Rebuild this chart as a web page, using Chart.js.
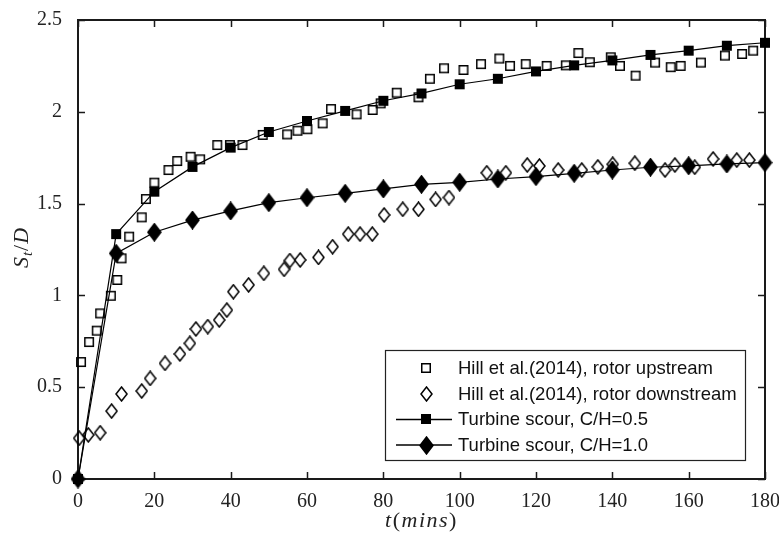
<!DOCTYPE html>
<html>
<head>
<meta charset="utf-8">
<script src="https://cdn.jsdelivr.net/npm/chart.js@4.4.1/dist/chart.umd.min.js"></script>
<style>
  html, body { margin: 0; padding: 0; background: #fff; }
</style>
</head>
<body>
<canvas id="scourChart" width="779" height="539"></canvas>
<script>
// Hill et al. (2014), rotor upstream
var upTime = [0.8, 2.9, 4.9, 5.8, 8.6, 10.3, 11.4, 13.4, 16.7, 17.8, 20, 23.7, 26, 29.5, 32, 36.5, 39.8, 43.1,
  48.4, 54.8, 57.5, 60.1, 64.1, 66.3, 73, 77.2, 79.3, 83.5, 89.2, 92.2, 95.9, 101, 105.6, 110.4, 113.2, 117.3,
  122.8, 127.8, 131.1, 134.1, 139.6, 142, 146.1, 151.2, 155.3, 157.9, 163.2, 169.5, 174, 176.9];
var upDepth = [0.637, 0.746, 0.808, 0.902, 0.998, 1.084, 1.202, 1.32, 1.425, 1.525, 1.614, 1.683, 1.732, 1.755, 1.741, 1.819, 1.819, 1.819,
  1.874, 1.877, 1.897, 1.905, 1.937, 2.015, 1.986, 2.01, 2.046, 2.104, 2.079, 2.18, 2.237, 2.228, 2.26, 2.29, 2.25, 2.26,
  2.25, 2.253, 2.32, 2.27, 2.297, 2.25, 2.197, 2.268, 2.243, 2.25, 2.268, 2.306, 2.315, 2.333];

// Hill et al. (2014), rotor downstream
var downTime = [0.3, 2.7, 5.8, 8.8, 11.4, 16.7, 18.9, 22.8, 26.7, 29.3, 30.9, 34, 37, 39, 40.7, 44.7, 48.7, 54, 55.5,
  58.2, 63, 66.7, 70.8, 73.9, 77.1, 80.2, 85.1, 89.2, 93.7, 97.2, 107.1, 112.1, 117.7, 120.9, 125.8, 132, 136.2,
  140.1, 145.9, 153.8, 156.4, 161.6, 166.4, 172.6, 175.9];
var downDepth = [0.222, 0.24, 0.252, 0.37, 0.463, 0.479, 0.548, 0.63, 0.681, 0.739, 0.817, 0.83, 0.866, 0.92, 1.02, 1.057, 1.12, 1.142, 1.19,
  1.193, 1.207, 1.265, 1.334, 1.334, 1.334, 1.438, 1.469, 1.469, 1.523, 1.533, 1.668, 1.668, 1.71, 1.705, 1.683, 1.683, 1.70,
  1.714, 1.72, 1.683, 1.71, 1.698, 1.743, 1.737, 1.737];

// Turbine scour simulations
var turbineTime = [0, 10, 20, 30, 40, 50, 60, 70, 80, 90, 100, 110, 120, 130, 140, 150, 160, 170, 180];
var ch05Depth = [0, 1.334, 1.565, 1.70, 1.805, 1.89, 1.95, 2.005, 2.06, 2.10, 2.15, 2.18, 2.22, 2.253, 2.28, 2.31, 2.333, 2.36, 2.376];
var ch10Depth = [0, 1.229, 1.344, 1.41, 1.46, 1.505, 1.532, 1.556, 1.58, 1.605, 1.616, 1.634, 1.647, 1.665, 1.683, 1.698, 1.706, 1.716, 1.723];

var seriesLabels = ["Hill et al.(2014), rotor upstream", "Hill et al.(2014), rotor downstream",
  "Turbine scour, C/H=0.5", "Turbine scour, C/H=1.0"];

function toPoints(xs, ys) {
  return xs.map(function (x, i) {
    return { x: x, y: ys[i] };
  });
}

// small canvases used as point styles
function marker(shape, filled) {
  var c = document.createElement("canvas");
  var g;
  if (shape === "square") {
    c.width = 12; c.height = 12;
    g = c.getContext("2d");
    g.lineWidth = 1.5;
    g.strokeStyle = "#000";
    if (filled) {
      g.fillStyle = "#000";
      g.fillRect(1, 1, 10, 10);
    } else {
      g.strokeRect(1.75, 1.75, 8.5, 8.5);
    }
  } else {
    var w = filled ? 15 : 13, h = filled ? 19 : 16;
    c.width = w; c.height = h;
    g = c.getContext("2d");
    g.beginPath();
    g.moveTo(w / 2, 1);
    g.lineTo(w - 1, h / 2);
    g.lineTo(w / 2, h - 1);
    g.lineTo(1, h / 2);
    g.closePath();
    g.lineWidth = 1.5;
    g.strokeStyle = "#000";
    if (filled) {
      g.fillStyle = "#000";
      g.fill();
    }
    g.stroke();
  }
  return c;
}

var framePlugin = {
  id: "frame",
  beforeDatasetsDraw: function (chart) {
    var ctx = chart.ctx, a = chart.chartArea;
    var xs = chart.scales.x, ys = chart.scales.y;
    ctx.save();
    ctx.strokeStyle = "#1a1a1a";
    ctx.lineWidth = 1.5;
    ctx.beginPath();
    xs.ticks.forEach(function (t) {
      var px = Math.round(xs.getPixelForValue(t.value)) + 0.5;
      ctx.moveTo(px, a.bottom); ctx.lineTo(px, a.bottom - 7);
      ctx.moveTo(px, a.top); ctx.lineTo(px, a.top + 7);
    });
    ys.ticks.forEach(function (t) {
      var py = Math.round(ys.getPixelForValue(t.value)) + 0.5;
      ctx.moveTo(a.left, py); ctx.lineTo(a.left + 7, py);
      ctx.moveTo(a.right, py); ctx.lineTo(a.right - 7, py);
    });
    ctx.stroke();
    ctx.lineWidth = 2;
    ctx.strokeRect(a.left, a.top, a.right - a.left, a.bottom - a.top);
    ctx.restore();
  }
};

// draws text made of runs (italic / upright / subscript), centred on x
function drawRuns(ctx, runs, cx, cy, spacing) {
  ctx.letterSpacing = (spacing || 0) + "px";
  var total = 0;
  runs.forEach(function (r) {
    ctx.font = (r.it ? "italic " : "") + r.size + 'px "Liberation Serif"';
    r.w = ctx.measureText(r.t).width;
    total += r.w;
  });
  var x = cx - total / 2;
  runs.forEach(function (r) {
    ctx.font = (r.it ? "italic " : "") + r.size + 'px "Liberation Serif"';
    ctx.fillText(r.t, x, cy + (r.dy || 0));
    x += r.w;
  });
  ctx.letterSpacing = "0px";
}

var titlePlugin = {
  id: "titles",
  afterDraw: function (chart) {
    var ctx = chart.ctx, a = chart.chartArea;
    ctx.save();
    ctx.fillStyle = "#222";
    ctx.textBaseline = "alphabetic";
    ctx.textAlign = "left";
    drawRuns(ctx, [
      { t: "t", it: true, size: 22 },
      { t: "(", it: false, size: 22 },
      { t: "mins", it: true, size: 22 },
      { t: ")", it: false, size: 22 }
    ], (a.left + a.right) / 2, 527, 1.5);
    ctx.translate(28, (a.top + a.bottom) / 2 - 2);
    ctx.rotate(-Math.PI / 2);
    drawRuns(ctx, [
      { t: "S", it: true, size: 22 },
      { t: "t", it: true, size: 15, dy: 4 },
      { t: "/", it: false, size: 22 },
      { t: "D", it: true, size: 22 }
    ], 0, 0, 1);
    ctx.restore();
  }
};

var legendPlugin = {
  id: "boxLegend",
  afterDraw: function (chart) {
    var ctx = chart.ctx, a = chart.chartArea;
    var right = a.right - 20, bottom = a.bottom - 19;
    var left = right - 360, top = bottom - 110;
    ctx.save();
    ctx.fillStyle = "#fff";
    ctx.fillRect(left, top, right - left, bottom - top);
    ctx.strokeStyle = "#222";
    ctx.lineWidth = 1.2;
    ctx.strokeRect(left + 0.5, top + 0.5, right - left, bottom - top);
    ctx.font = '18.5px "Liberation Sans"';
    ctx.textBaseline = "middle";
    ctx.fillStyle = "#111";
    chart.data.datasets.forEach(function (ds, i) {
      var y = top + 18 + i * 25.7;
      if (ds.showLine) {
        ctx.beginPath();
        ctx.strokeStyle = "#000";
        ctx.lineWidth = 1.5;
        ctx.moveTo(left + 11, y);
        ctx.lineTo(left + 67, y);
        ctx.stroke();
      }
      var img = ds.legendStyle;
      ctx.drawImage(img, Math.round(left + 41 - img.width / 2), Math.round(y - img.height / 2));
      ctx.fillText(ds.label, left + 73, y + 1);
    });
    ctx.restore();
  }
};

var tickFont = { family: "Liberation Serif", size: 20 };

new Chart(document.getElementById("scourChart").getContext("2d"), {
  type: "scatter",
  data: {
    datasets: [
      {
        label: seriesLabels[0],
        data: toPoints(upTime, upDepth),
        pointStyle: marker("square", false),
        legendStyle: marker("square", false),
        showLine: false,
        clip: false
      },
      {
        label: seriesLabels[1],
        data: toPoints(downTime, downDepth),
        pointStyle: marker("diamond", false),
        legendStyle: marker("diamond", false),
        showLine: false,
        clip: false
      },
      {
        label: seriesLabels[2],
        data: toPoints(turbineTime, ch05Depth),
        pointStyle: marker("square", true),
        legendStyle: marker("square", true),
        showLine: true,
        borderColor: "#000",
        borderWidth: 1.2,
        clip: false
      },
      {
        label: seriesLabels[3],
        data: toPoints(turbineTime, ch10Depth),
        pointStyle: marker("diamond", true),
        legendStyle: marker("diamond", true),
        showLine: true,
        borderColor: "#000",
        borderWidth: 1.2,
        clip: false
      }
    ]
  },
  options: {
    responsive: false,
    animation: false,
    layout: { padding: { top: 20, right: 14, left: 0, bottom: 0 } },
    plugins: {
      legend: { display: false },
      tooltip: { enabled: false }
    },
    scales: {
      x: {
        type: "linear",
        min: 0,
        max: 180,
        grid: { display: false },
        border: { display: false },
        ticks: { stepSize: 20, font: tickFont, color: "#222", padding: 3, maxRotation: 0 },
        afterFit: function (s) {
          s.height = 60;
          s.paddingLeft = 0;
          s.paddingRight = 0;
        }
      },
      y: {
        type: "linear",
        min: 0,
        max: 2.5,
        grid: { display: false },
        border: { display: false },
        ticks: {
          stepSize: 0.5,
          font: tickFont,
          color: "#222",
          padding: 8,
          callback: function (v) { return String(v); }
        },
        afterFit: function (s) {
          s.width = 78;
          s.paddingTop = 0;
          s.paddingBottom = 0;
        }
      }
    }
  },
  plugins: [framePlugin, legendPlugin, titlePlugin]
});
</script>
</body>
</html>
